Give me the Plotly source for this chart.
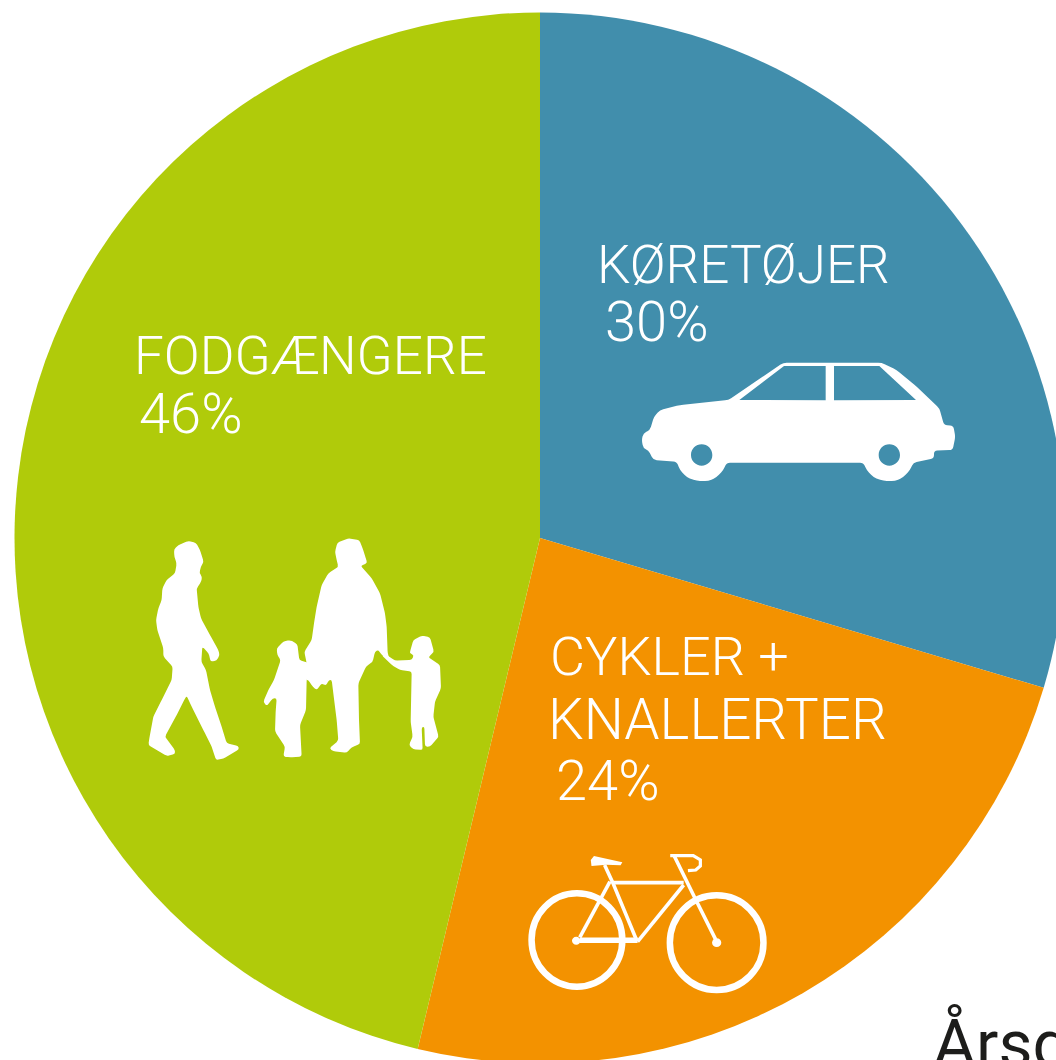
import math
import plotly.graph_objects as go

# Data: shares measured from the slice angles; printed labels are the rounded figures
categories = ["KØRETØJER", "CYKLER + KNALLERTER", "FODGÆNGERE"]
shares = [29.6, 24.14, 46.26]
colors = ["#418eac", "#f39200", "#b0cb0a"]
text_lines = [
    ("KØRETØJER", 596, 265, 53), ("30%", 604, 322, 56),
    ("CYKLER +", 549, 656, 54), ("KNALLERTER", 547, 720, 56.5), ("24%", 555, 781, 56),
    ("FODGÆNGERE", 133, 356, 53), ("46%", 138, 414, 56),
]
footer_text = "Årsd"

W, H = 1080, 1076
CX, CY, R = 540, 538, 525.5


def pt(o, zx, zy):
    x0, y0, sx, sy = o
    return (x0 + zx / sx) / W, 1 - (y0 + zy / sy) / H


def poly(o, pts):
    s = []
    for i in range(0, len(pts), 2):
        px, py = pt(o, pts[i], pts[i + 1])
        s.append(("M" if i == 0 else "L") + f"{px:.5f},{py:.5f}")
    return " ".join(s)


def closed(o, pts):
    return poly(o, pts) + " Z"


def rounded(o, pts, dmax):
    """Closed outline whose corners are softened with short quadratic curves."""
    v = [(pts[i], pts[i + 1]) for i in range(0, len(pts), 2)]
    n = len(v)
    s = ""
    for i in range(n):
        a, b, c = v[i - 1], v[i], v[(i + 1) % n]
        d1 = min(dmax, math.dist(a, b) / 2) / max(math.dist(a, b), 1e-6)
        d2 = min(dmax, math.dist(b, c) / 2) / max(math.dist(b, c), 1e-6)
        p1 = pt(o, b[0] + (a[0] - b[0]) * d1, b[1] + (a[1] - b[1]) * d1)
        q = pt(o, b[0], b[1])
        p2 = pt(o, b[0] + (c[0] - b[0]) * d2, b[1] + (c[1] - b[1]) * d2)
        s += ("M" if i == 0 else " L") + f"{p1[0]:.5f},{p1[1]:.5f} Q{q[0]:.5f},{q[1]:.5f} {p2[0]:.5f},{p2[1]:.5f}"
    return s + " Z"


def ellipse(o, cx, cy, rx, ry=None):
    ry = rx if ry is None else ry
    kx, ky = 0.5523 * rx, 0.5523 * ry
    segs = [
        (cx + kx, cy - ry, cx + rx, cy - ky, cx + rx, cy),
        (cx + rx, cy + ky, cx + kx, cy + ry, cx, cy + ry),
        (cx - kx, cy + ry, cx - rx, cy + ky, cx - rx, cy),
        (cx - rx, cy - ky, cx - kx, cy - ry, cx, cy - ry),
    ]
    mx, my = pt(o, cx, cy - ry)
    s = f"M{mx:.5f},{my:.5f}"
    for g in segs:
        a = pt(o, g[0], g[1]); b = pt(o, g[2], g[3]); c = pt(o, g[4], g[5])
        s += f" C{a[0]:.5f},{a[1]:.5f} {b[0]:.5f},{b[1]:.5f} {c[0]:.5f},{c[1]:.5f}"
    return s + " Z"


WHITE = "#ffffff"
shapes = []


def fill(path):
    shapes.append(dict(type="path", xref="paper", yref="paper", path=path, fillcolor=WHITE,
                       line=dict(width=0), fillrule="evenodd", layer="above"))


def stroke(path, w):
    shapes.append(dict(type="path", xref="paper", yref="paper", path=path,
                       line=dict(color=WHITE, width=w), layer="above"))


# People icon
P = (120, 520, 3, 3)
people = [
    [162,88,175,75,205,63,228,68,240,90,251,125,243,140,238,158,246,170,244,185,230,205,235,260,243,295,270,345,295,390,299,405,290,422,272,425,266,400,247,380,244,425,258,450,270,510,285,560,305,620,320,670,355,678,357,688,310,716,288,720,275,680,250,630,215,560,200,528,195,535,170,585,135,650,165,690,165,702,140,708,85,675,88,655,100,590,125,540,155,480,158,440,130,410,130,385,112,330,108,300,115,265,125,240,127,205,140,180,165,160,170,130,163,110],
    [645,95,652,68,685,55,718,60,728,85,742,130,722,137,755,175,780,220,795,280,800,320,803,400,810,420,785,405,775,390,765,395,758,425,738,440,715,490,717,600,720,672,695,682,680,698,640,694,628,685,655,662,650,600,640,520,635,480,627,480,618,497,605,490,590,510,578,500,565,480,558,480,560,430,553,395,575,360,582,310,590,260,605,195,625,160,655,140,650,120],
    [470,385,490,365,510,360,532,372,538,420,568,430,560,480,558,570,540,615,545,710,510,712,490,710,495,680,465,635,467,575,470,535,458,535,440,558,430,545,445,510,462,480,482,420,472,405],
    [870,395,880,360,905,347,930,352,942,395,925,412,960,435,963,505,945,545,940,590,956,650,930,680,915,680,913,620,905,622,908,690,880,688,867,675,878,650,872,605,875,455,840,450,815,435,785,405,800,405,825,422,875,420,882,405,870,400],
]
for p in people:
    fill(rounded(P, p, 7))

# Car icon
C = (580, 220, 3, 3)
car_body = [185,660,190,640,210,630,222,590,240,570,300,555,445,540,610,428,905,428,950,450,1010,500,1078,565,1092,615,1120,617,1126,650,1118,690,1062,692,1062,715,1000,728,990,750,970,772,945,783,910,783,880,772,860,750,850,728,440,728,430,750,410,772,385,783,350,783,320,772,300,750,290,725,220,720,205,690,190,685]
win1 = [478,540,612,438,737,438,737,541]
win2 = [762,438,898,438,1008,540,762,541]
fill(" ".join([rounded(C, car_body, 10), closed(C, win1), closed(C, win2),
               ellipse(C, 365, 705, 32), ellipse(C, 928, 705, 32)]))

# Bicycle icon
B = (500, 830, 2.82, 3)
stroke(ellipse(B, 217, 330, 128, 140), 6.5)
stroke(ellipse(B, 611, 338, 132, 142), 6.5)
for seg in [
    [295,105,318,158,385,330], [318,158,518,158], [518,165,388,335],
    [310,155,225,322], [490,75,550,205,608,328],
]:
    stroke(poly(B, seg), 3.6)
stroke(poly(B, [225,331,388,331]), 5.5)
stroke(poly(B, [480,77,545,77,565,90,565,108,552,120,530,122]), 3.2)
fill(closed(B, [258,108,256,90,265,78,345,97,340,106,300,104]))
fill(ellipse(B, 215, 332, 12))
fill(ellipse(B, 611, 338, 13))

annotations = [
    dict(text=t, x=x / W, y=1 - y / H, xref="paper", yref="paper", xanchor="left", yanchor="middle",
         showarrow=False, borderpad=0, font=dict(family="Roboto", size=s, color=WHITE, weight=300))
    for t, x, y, s in text_lines
]
annotations.append(dict(text=footer_text, x=932 / W, y=1 - 1043 / H, xref="paper", yref="paper",
                        xanchor="left", yanchor="middle", showarrow=False, borderpad=0,
                        font=dict(family="Roboto", size=66, color="#1d1d1b", weight=400)))

fig = go.Figure(go.Pie(
    labels=categories, values=shares, sort=False, direction="clockwise", rotation=0,
    marker=dict(colors=colors, line=dict(width=0)), textinfo="none", hoverinfo="label+percent",
    domain=dict(x=[(CX - R) / W, (CX + R) / W], y=[1 - (CY + R) / H, 1 - (CY - R) / H]),
    showlegend=False,
))
fig.update_layout(width=W, height=H, margin=dict(l=0, r=0, t=0, b=0), autosize=False,
                  paper_bgcolor="#ffffff", shapes=shapes, annotations=annotations)
fig.write_html("out.html", post_script="document.body.style.margin='0';document.documentElement.style.overflow='hidden';document.body.style.overflow='hidden';",
               config=dict(displayModeBar=False))
